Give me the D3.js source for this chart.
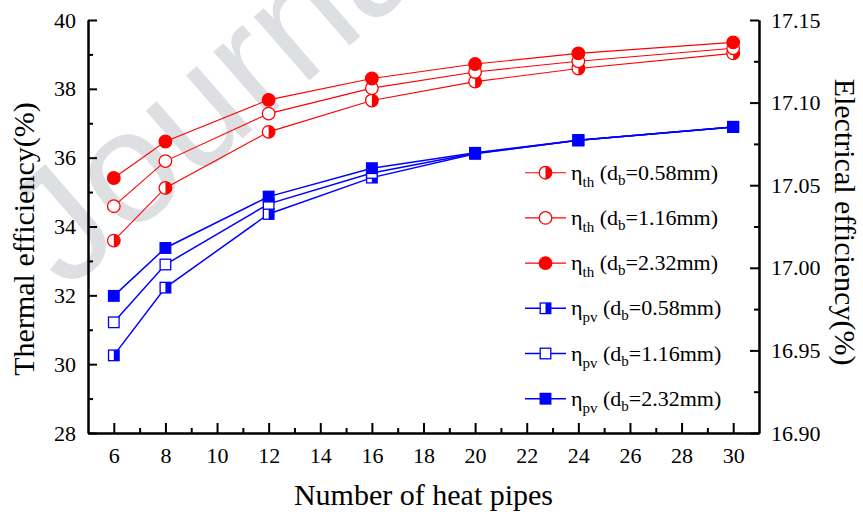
<!DOCTYPE html>
<html>
<head>
<meta charset="utf-8">
<script src="https://cdn.jsdelivr.net/npm/d3@7"></script>
<style>
  html, body { margin: 0; padding: 0; background: #fff; }
  svg { display: block; }
  text { font-family: "Liberation Serif", "Times New Roman", serif; fill: #000; }
</style>
</head>
<body>
<svg id="chart" width="863" height="518"></svg>
<script>
// Number of heat pipes (x positions of measurements)
const pipes = [6, 8, 12, 16, 20, 24, 30];

// Thermal efficiency (%) — left axis
const thermal058 = [33.59, 35.12, 36.75, 37.66, 38.21, 38.59, 39.03];
const thermal116 = [34.59, 35.90, 37.28, 38.02, 38.49, 38.80, 39.18];
const thermal232 = [35.41, 36.47, 37.68, 38.30, 38.72, 39.03, 39.35];

// Electrical efficiency (%) — right axis
const pv058 = [16.947, 16.988, 17.0326, 17.0546, 17.0690, 17.0772, 17.0853];
const pv116 = [16.967, 17.002, 17.0387, 17.0574, 17.0693, 17.0772, 17.0853];
const pv232 = [16.983, 17.012, 17.0431, 17.0603, 17.0696, 17.0772, 17.0853];

// Axis ticks
const xTicks = [6, 8, 10, 12, 14, 16, 18, 20, 22, 24, 26, 28, 30];
const xMinor = [7, 9, 11, 13, 15, 17, 19, 21, 23, 25, 27, 29];
const leftTicks = [28, 30, 32, 34, 36, 38, 40];
const leftMinor = [29, 31, 33, 35, 37, 39];
const rightTicks = [16.90, 16.95, 17.00, 17.05, 17.10, 17.15];
const rightMinor = [16.925, 16.975, 17.025, 17.075, 17.125];

// Legend entries
const legendItems = [
  { sym: "th", d: "0.58mm", shape: "circle", fill: "half", color: "#ff0000" },
  { sym: "th", d: "1.16mm", shape: "circle", fill: "open", color: "#ff0000" },
  { sym: "th", d: "2.32mm", shape: "circle", fill: "full", color: "#ff0000" },
  { sym: "pv", d: "0.58mm", shape: "square", fill: "half", color: "#0000ff" },
  { sym: "pv", d: "1.16mm", shape: "square", fill: "open", color: "#0000ff" },
  { sym: "pv", d: "2.32mm", shape: "square", fill: "full", color: "#0000ff" }
];

const series = [
  { values: thermal058, axis: "left", ...legendItems[0] },
  { values: thermal116, axis: "left", ...legendItems[1] },
  { values: thermal232, axis: "left", ...legendItems[2] },
  { values: pv058, axis: "right", ...legendItems[3] },
  { values: pv116, axis: "right", ...legendItems[4] },
  { values: pv232, axis: "right", ...legendItems[5] }
];

const svg = d3.select("#chart");
const plotLeft = 88, plotRight = 759, plotTop = 20, plotBottom = 433;

const x = d3.scaleLinear().domain([5, 31]).range([plotLeft, plotRight]);
const yL = d3.scaleLinear().domain([28, 40]).range([plotBottom, plotTop]);
const yR = d3.scaleLinear().domain([16.90, 17.15]).range([plotBottom, plotTop]);

// Faint diagonal watermark behind the plot
svg.append("text")
  .attr("transform", "translate(66,292) rotate(-41)")
  .style("font-family", "'Liberation Sans', Arial, sans-serif")
  .style("font-size", "160px")
  .style("fill", "#dedfe2")
  .text("Journal Pre-proof");

// Axes
function styleAxis(g) {
  g.select(".domain").attr("stroke", "#000").attr("stroke-width", 2);
  g.selectAll(".tick line").attr("stroke", "#000").attr("stroke-width", 2);
  g.selectAll("text").style("font-family", "'Liberation Serif', 'Times New Roman', serif")
    .style("font-size", "22px").attr("fill", "#000");
}

svg.append("g").attr("transform", `translate(0,${plotBottom})`)
  .call(d3.axisBottom(x).tickValues(xMinor).tickSize(-5).tickSizeOuter(0).tickFormat(""))
  .call(styleAxis);
svg.append("g").attr("transform", `translate(0,${plotBottom})`)
  .call(d3.axisBottom(x).tickValues(xTicks).tickSize(-10).tickSizeOuter(0).tickPadding(14).tickFormat(d3.format("d")))
  .call(styleAxis);

svg.append("g").attr("transform", `translate(${plotLeft},0)`)
  .call(d3.axisLeft(yL).tickValues(leftMinor).tickSize(-5).tickSizeOuter(0).tickFormat(""))
  .call(styleAxis);
svg.append("g").attr("transform", `translate(${plotLeft},0)`)
  .call(d3.axisLeft(yL).tickValues(leftTicks).tickSize(-9).tickSizeOuter(0).tickPadding(12).tickFormat(d3.format("d")))
  .call(styleAxis);

svg.append("g").attr("transform", `translate(${plotRight},0)`)
  .call(d3.axisRight(yR).tickValues(rightMinor).tickSize(-5).tickSizeOuter(0).tickFormat(""))
  .call(styleAxis);
svg.append("g").attr("transform", `translate(${plotRight},0)`)
  .call(d3.axisRight(yR).tickValues(rightTicks).tickSize(-9).tickSizeOuter(0).tickPadding(12).tickFormat(d3.format(".2f")))
  .call(styleAxis);

// Axis titles
svg.append("text")
  .attr("transform", "translate(34,239) rotate(-90)")
  .attr("text-anchor", "middle")
  .style("font-size", "30px")
  .text("Thermal efficiency(%)");

svg.append("text")
  .attr("transform", "translate(835,222) rotate(90)")
  .attr("text-anchor", "middle")
  .style("font-size", "30px")
  .text("Electrical efficiency(%)");

svg.append("text")
  .attr("x", (plotLeft + plotRight) / 2)
  .attr("y", 505)
  .attr("text-anchor", "middle")
  .style("font-size", "30px")
  .text("Number of heat pipes");

// Marker drawing
function drawMarker(g, item) {
  const c = item.color;
  if (item.shape === "circle") {
    const r = 6.3;
    g.append("circle").attr("r", r)
      .attr("fill", item.fill === "full" ? c : "#fff")
      .attr("stroke", c).attr("stroke-width", 1.3);
    if (item.fill === "half") {
      g.append("path").attr("d", `M0,${-r}A${r},${r} 0 0 1 0,${r}Z`).attr("fill", c);
    }
  } else {
    const h = 5.3;
    g.append("rect").attr("x", -h).attr("y", -h).attr("width", 2 * h).attr("height", 2 * h)
      .attr("fill", item.fill === "full" ? c : "#fff")
      .attr("stroke", c).attr("stroke-width", 1.3);
    if (item.fill === "half") {
      g.append("rect").attr("x", 0).attr("y", -h).attr("width", h).attr("height", 2 * h).attr("fill", c);
    }
  }
}

// Lines and points
const plot = svg.append("g");
series.forEach(s => {
  const y = s.axis === "left" ? yL : yR;
  const line = d3.line().x((d, i) => x(pipes[i])).y(d => y(d));
  plot.append("path").datum(s.values)
    .attr("d", line)
    .attr("fill", "none")
    .attr("stroke", s.color)
    .attr("stroke-width", s.shape === "circle" ? 1.1 : 1.5);
});
series.forEach(s => {
  const y = s.axis === "left" ? yL : yR;
  s.values.forEach((v, i) => {
    const g = plot.append("g").attr("transform", `translate(${x(pipes[i])},${y(v)})`);
    drawMarker(g, s);
  });
});

// Legend
const legend = svg.append("g");
legendItems.forEach((item, i) => {
  const cy = 172.7 + i * 45.2;
  const g = legend.append("g").attr("transform", `translate(0,${cy})`);
  g.append("line").attr("x1", 525).attr("x2", 566).attr("y1", 0).attr("y2", 0)
    .attr("stroke", item.color).attr("stroke-width", item.shape === "circle" ? 1.1 : 1.5);
  drawMarker(g.append("g").attr("transform", "translate(545.5,0)"), item);
  const t = g.append("text").attr("x", 571).attr("y", 7).style("font-size", "22px");
  t.append("tspan").text("\u03B7");
  t.append("tspan").attr("dy", 7).style("font-size", "15px").text(item.sym);
  t.append("tspan").attr("dy", -7).text(" (d");
  t.append("tspan").attr("dy", 5).style("font-size", "15px").text("b");
  t.append("tspan").attr("dy", -5).text("=" + item.d + ")");
});
</script>
</body>
</html>
